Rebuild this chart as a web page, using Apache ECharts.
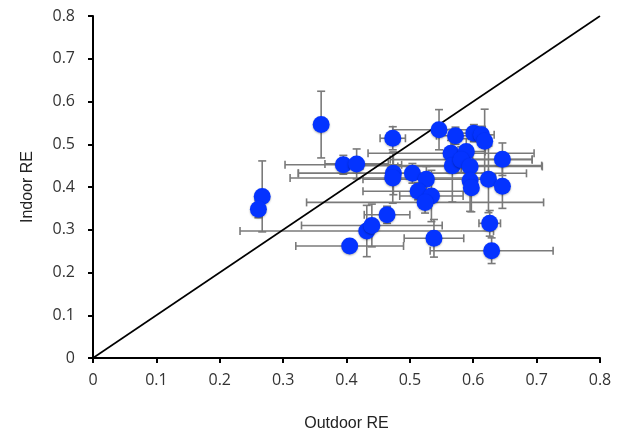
<!DOCTYPE html>
<html>
<head>
<meta charset="utf-8">
<script src="https://cdn.jsdelivr.net/npm/echarts@6/dist/echarts.min.js"></script>
<style>
html, body { margin: 0; padding: 0; background: #fff; }
#main { width: 622px; height: 435px; }
</style>
</head>
<body>
<div id="main"></div>
<script>
// outdoor / indoor RE
var outdoorRE = [0.360, 0.267, 0.261, 0.395, 0.416, 0.405, 0.432, 0.440, 0.464, 0.473,
                 0.474, 0.473, 0.504, 0.526, 0.513, 0.534, 0.524, 0.538, 0.546, 0.572,
                 0.601, 0.613, 0.618, 0.565, 0.589, 0.567, 0.581, 0.595, 0.595, 0.597,
                 0.624, 0.646, 0.646, 0.626, 0.629];
var indoorRE  = [0.546, 0.378, 0.348, 0.452, 0.454, 0.262, 0.297, 0.310, 0.335, 0.514,
                 0.432, 0.421, 0.432, 0.418, 0.390, 0.379, 0.364, 0.280, 0.534, 0.520,
                 0.526, 0.522, 0.507, 0.479, 0.483, 0.450, 0.464, 0.448, 0.415, 0.398,
                 0.418, 0.465, 0.402, 0.315, 0.251];
// error bar half widths
var outdoorErr = [0, 0, 0, 0.092, 0.05, 0.085, 0.2, 0.111, 0.036, 0.02,
                  0.15, 0.162, 0.18, 0.1, 0.087, 0.05, 0.187, 0.047, 0.073, 0.03,
                  0.02, 0.02, 0, 0.131, 0.03, 0.141, 0.112, 0.114, 0, 0,
                  0, 0.047, 0, 0.017, 0.097];
var indoorErr  = [0.078, 0.083, 0.02, 0.022, 0.035, 0.012, 0.06, 0.05, 0.02, 0.027,
                  0.05, 0.059, 0.023, 0.03, 0.02, 0.06, 0.025, 0.044, 0.047, 0.02,
                  0.02, 0.02, 0.075, 0.03, 0.03, 0.085, 0.03, 0.03, 0.072, 0.056,
                  0.078, 0.038, 0.052, 0.03, 0.03];
var diagX = [0, 0.8];
var diagY = [0, 0.8];

var points = [], bars = [], diag = [];
for (var i = 0; i < outdoorRE.length; i++) {
    points.push([outdoorRE[i], indoorRE[i]]);
    bars.push([outdoorRE[i], indoorRE[i], outdoorErr[i], indoorErr[i]]);
}
for (var i = 0; i < diagX.length; i++) {
    diag.push([diagX[i], diagY[i]]);
}

var barStyle = { stroke: '#7a7a7a', lineWidth: 1.6 };
function renderBar(params, api) {
    var x = api.value(0), y = api.value(1), ex = api.value(2), ey = api.value(3);
    var cap = 4;
    var kids = [];
    if (ex > 0) {
        var l = api.coord([x - ex, y]), r = api.coord([x + ex, y]);
        kids.push({ type: 'line', shape: { x1: l[0], y1: l[1], x2: r[0], y2: r[1] }, style: barStyle });
        kids.push({ type: 'line', shape: { x1: l[0], y1: l[1] - cap, x2: l[0], y2: l[1] + cap }, style: barStyle });
        kids.push({ type: 'line', shape: { x1: r[0], y1: r[1] - cap, x2: r[0], y2: r[1] + cap }, style: barStyle });
    }
    if (ey > 0) {
        var t = api.coord([x, y + ey]), b = api.coord([x, y - ey]);
        kids.push({ type: 'line', shape: { x1: t[0], y1: t[1], x2: b[0], y2: b[1] }, style: barStyle });
        kids.push({ type: 'line', shape: { x1: t[0] - cap, y1: t[1], x2: t[0] + cap, y2: t[1] }, style: barStyle });
        kids.push({ type: 'line', shape: { x1: b[0] - cap, y1: b[1], x2: b[0] + cap, y2: b[1] }, style: barStyle });
    }
    return { type: 'group', children: kids };
}

var myChart = echarts.init(document.getElementById('main'));
var option = {
    animation: false,
    grid: { left: 93, right: 22, top: 16, bottom: 77, outerBoundsMode: 'none' },
    xAxis: {
        type: 'value', min: 0, max: 0.8, interval: 0.1,
        name: 'Outdoor RE', nameLocation: 'middle', nameGap: 58,
        nameTextStyle: { color: '#222', fontSize: 16, fontFamily: 'Liberation Sans' },
        axisLine: { lineStyle: { color: '#000', width: 2 } },
        axisTick: { show: true, length: 5, lineStyle: { color: '#000', width: 2 } },
        axisLabel: { margin: 14, color: '#333', fontSize: 16, fontFamily: 'Open Sans',
                     formatter: function (v) { return String(Math.round(v * 10) / 10); } },
        splitLine: { show: false }
    },
    yAxis: {
        type: 'value', min: 0, max: 0.8, interval: 0.1,
        name: 'Indoor RE', nameLocation: 'middle', nameGap: 57,
        nameTextStyle: { color: '#222', fontSize: 16, fontFamily: 'Liberation Sans' },
        axisLine: { lineStyle: { color: '#000', width: 2 } },
        axisTick: { show: true, length: 5, lineStyle: { color: '#000', width: 2 } },
        axisLabel: { margin: 18, color: '#333', fontSize: 16, fontFamily: 'Open Sans',
                     formatter: function (v) { return String(Math.round(v * 10) / 10); } },
        splitLine: { show: false }
    },
    series: [
        {
            type: 'custom',
            renderItem: renderBar,
            data: bars,
            z: 1,
            silent: true
        },
        {
            type: 'line',
            data: diag,
            symbol: 'none',
            lineStyle: { color: '#000', width: 1.6 },
            z: 2,
            silent: true
        },
        {
            type: 'scatter',
            data: points,
            symbolSize: 17,
            itemStyle: { color: '#0433ff', opacity: 1, shadowColor: 'rgba(0,0,0,0.3)', shadowBlur: 2, shadowOffsetY: 1 },
            z: 3
        }
    ]
};
myChart.setOption(option);
</script>
</body>
</html>
